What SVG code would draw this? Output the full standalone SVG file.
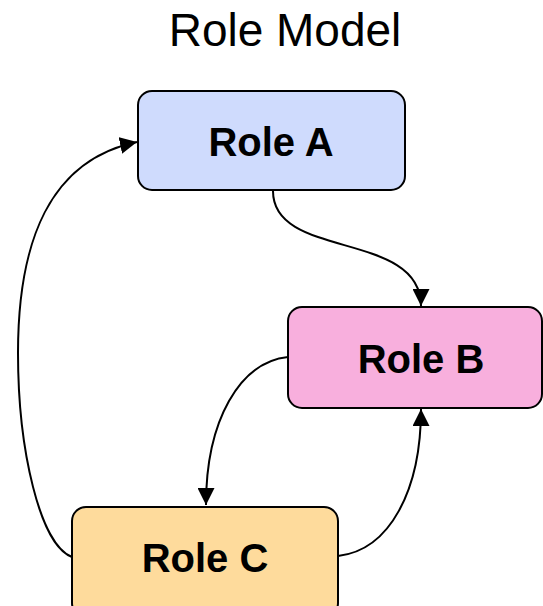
<svg xmlns="http://www.w3.org/2000/svg" width="543" height="606" viewBox="0 0 543 606">
  <style>
    .box { stroke: #000; stroke-width: 2; }
    .lbl { font-family: "Liberation Sans", Arial, sans-serif; font-weight: bold; font-size: 40px; fill: #000; text-anchor: middle; }
    .title { font-family: "Liberation Sans", Arial, sans-serif; font-size: 46px; fill: #000; text-anchor: middle; }
    .edge { fill: none; stroke: #000; stroke-width: 2; marker-end: url(#arr); }
  </style>
  <defs>
    <marker id="arr" markerUnits="userSpaceOnUse" viewBox="0 0 17 17" markerWidth="17" markerHeight="17" refX="17" refY="8.5" orient="auto">
      <path d="M0,0 L17,8.5 L0,17 z" fill="#000"/>
    </marker>
  </defs>
  <rect width="543" height="606" fill="#fff"/>
  <text class="title" x="285" y="46">Role Model</text>
  <g id="connectors">
    <path class="edge" d="M273,191 C273,260 421,230 421,306"/>
    <path class="edge" d="M288,357 C240,362 206,420 206,505"/>
    <path class="edge" d="M338,556 C390,550 421,490 421,409"/>
    <path class="edge" d="M72,557 C40,545 18,450 18,353 C18,240 50,160 137,142"/>
  </g>
  <g id="roleA">
    <rect class="box" x="138" y="91" width="267" height="99" rx="14" fill="#cfdbfd"/>
    <text class="lbl" x="271" y="156">Role A</text>
  </g>
  <g id="roleB">
    <rect class="box" x="288" y="307" width="254" height="101" rx="14" fill="#f8afdd"/>
    <text class="lbl" x="421" y="373">Role B</text>
  </g>
  <g id="roleC">
    <rect class="box" x="72" y="507" width="266" height="110" rx="14" fill="#fedb9c"/>
    <text class="lbl" x="205" y="572">Role C</text>
  </g>
</svg>
